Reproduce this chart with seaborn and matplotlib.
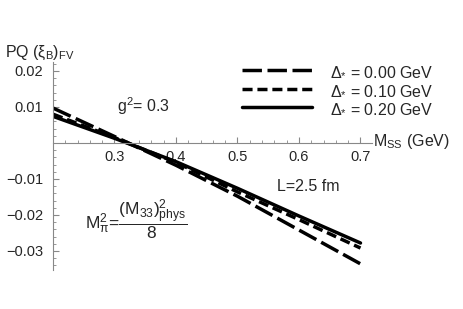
import numpy as np
import pandas as pd
import matplotlib
matplotlib.use("Agg")
import matplotlib.pyplot as plt
import seaborn as sns
from matplotlib.ticker import MultipleLocator, FixedLocator

# values
mss = [0.2, 0.3, 0.4, 0.5, 0.6, 0.7]
pq_d000 = [0.0097, 0.0018, -0.0062, -0.0148, -0.0242, -0.0336]
pq_d010 = [0.0080, 0.0015, -0.0054, -0.0136, -0.0213, -0.0292]
pq_d020 = [0.0074, 0.0013, -0.0052, -0.0126, -0.0203, -0.0278]
labels = [r'$\Delta_{*}$ = 0.00 GeV', r'$\Delta_{*}$ = 0.10 GeV', r'$\Delta_{*}$ = 0.20 GeV']
xticks = [0.3, 0.4, 0.5, 0.6, 0.7]
yticks = [-0.03, -0.02, -0.01, 0.01, 0.02]

sns.set_style('white')
sns.set_style('ticks')
plt.rcParams['font.family'] = ['Liberation Sans', 'DejaVu Sans']
plt.rcParams['mathtext.fontset'] = 'custom'
plt.rcParams['mathtext.rm'] = 'Liberation Sans'
plt.rcParams['mathtext.it'] = 'Liberation Sans'
plt.rcParams['mathtext.bf'] = 'Liberation Sans:bold'

fig = plt.figure(figsize=(4.63, 3.09), dpi=100)
ax = fig.add_axes([53 / 463, 39 / 309, 319 / 463, 208 / 309])

df = pd.DataFrame({'mss': mss * 3,
                   'pq': pq_d000 + pq_d010 + pq_d020,
                   'delta': [labels[0]] * 6 + [labels[1]] * 6 + [labels[2]] * 6})
dash_styles = [(5.6, 1.6), (2.9, 1.4), ()]
for lab, dsh in zip(labels, dash_styles):
    sub = df[df['delta'] == lab]
    line_kws = dict(color='black', linewidth=2.5, label=lab)
    if dsh:
        line_kws['dashes'] = dsh
    sns.lineplot(x='mss', y='pq', data=sub, ax=ax, **line_kws)

ax.set_xlim(0.2, 0.7187)
ax.set_ylim(-0.0353, 0.0225)
ax.spines['left'].set_position(('data', 0.2))
ax.spines['bottom'].set_position(('data', 0.0))
ax.spines['top'].set_visible(False)
ax.spines['right'].set_visible(False)
for s in ['left', 'bottom']:
    ax.spines[s].set_color('#888888')
    ax.spines[s].set_linewidth(0.8)

ax.xaxis.set_major_locator(FixedLocator(xticks))
ax.yaxis.set_major_locator(FixedLocator(yticks))
ax.xaxis.set_minor_locator(MultipleLocator(0.02))
ax.yaxis.set_minor_locator(MultipleLocator(0.002))
ax.set_xticklabels(['%.1f' % t for t in xticks])
ax.set_yticklabels(['%.2f' % t if t > 0 else '\u2212%.2f' % -t for t in yticks])
ax.tick_params(which='both', direction='in', color='#888888', labelsize=10.5)
ax.tick_params(which='major', length=4, width=0.8)
ax.tick_params(which='minor', length=2, width=0.6)
ax.tick_params(axis='x', pad=5)
ax.tick_params(axis='y', pad=7)
ax.set_xlabel('')
ax.set_ylabel('')

ax.text(1.003, 0.0005, r'M$_{\mathrm{SS}}$ (GeV)', transform=ax.get_yaxis_transform(),
        fontsize=11.5, va='center', ha='left')
fig.text(5 / 463, 1 - 53 / 309, r'PQ ($\xi_{\mathrm{B}}$)$_{\mathrm{FV}}$', fontsize=11.5,
         va='center', ha='left')
ax.text(0.304, 0.0101, r'g$^{2}$= 0.3', fontsize=11.5, va='center', ha='left')
ax.text(0.564, -0.0122, 'L=2.5 fm', fontsize=11.5, va='center', ha='left')
ax.text(0.252, -0.0212, r'M$_{\pi}^{2}$=$\dfrac{(\mathrm{M}_{33})^{2}_{\mathrm{phys}}}{8}$',
        fontsize=12.5, va='center', ha='left')

leg = ax.legend(loc='upper left', bbox_to_anchor=(242 / 463, 1 - 64 / 309),
                bbox_transform=fig.transFigure, frameon=False, fontsize=11.5,
                handlelength=4.4, handletextpad=1.1, labelspacing=0.22,
                borderpad=0, borderaxespad=0)

fig.savefig('out.png', dpi=100)
